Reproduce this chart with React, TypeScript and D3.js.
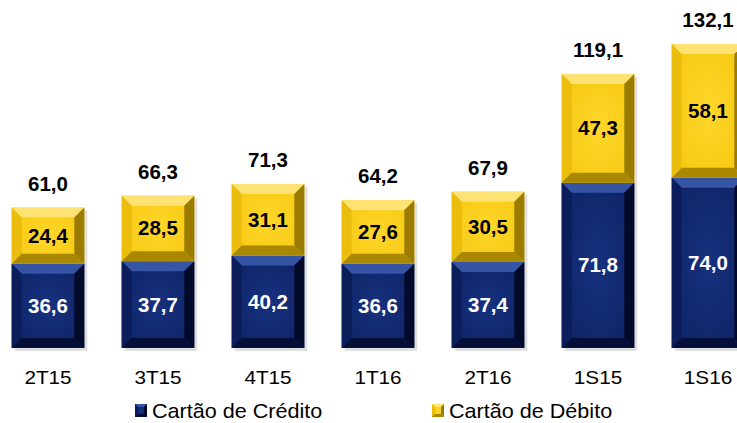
import React from "react";
import * as d3 from "d3";

const categories = ["2T15", "3T15", "4T15", "1T16", "2T16", "1S15", "1S16"];
const credito = [36.6, 37.7, 40.2, 36.6, 37.4, 71.8, 74.0];
const debito = [24.4, 28.5, 31.1, 27.6, 30.5, 47.3, 58.1];
const totais = [61.0, 66.3, 71.3, 64.2, 67.9, 119.1, 132.1];
const seriesNames = ["Cartão de Crédito", "Cartão de Débito"];

const fmt = (v: number) => v.toFixed(1).replace(".", ",");

const palettes = [
  { id: "azul", face: "#0f2468", faceMid: "#17317e", top: "#3654a4", left: "#0c1d5c", right: "#030928", bottom: "#060f38", text: "#ffffff" },
  { id: "amarelo", face: "#f6c912", faceMid: "#ffd62a", top: "#fee274", left: "#ebbd0c", right: "#9c7c00", bottom: "#a98800", text: "#000000" },
];

function BevelRect({ x, y, w, h, p }: { x: number; y: number; w: number; h: number; p: typeof palettes[0] }) {
  const b = Math.min(10, h / 4, w / 4);
  const pts = (arr: number[][]) => arr.map((d) => d.join(",")).join(" ");
  return (
    <g>
      <rect x={x} y={y} width={w} height={h} fill={`url(#face-${p.id})`} />
      <polygon points={pts([[x, y], [x + w, y], [x + w - b, y + b], [x + b, y + b]])} fill={p.top} />
      <polygon points={pts([[x, y], [x + b, y + b], [x + b, y + h - b], [x, y + h]])} fill={p.left} />
      <polygon points={pts([[x + w, y], [x + w, y + h], [x + w - b, y + h - b], [x + w - b, y + b]])} fill={p.right} />
      <polygon points={pts([[x, y + h], [x + b, y + h - b], [x + w - b, y + h - b], [x + w, y + h]])} fill={p.bottom} />
    </g>
  );
}

export default function App() {
  const width = 737;
  const height = 423;
  const baseline = 348;

  const x = d3.scaleBand<string>().domain(categories).range([-7, 763]).paddingInner(0.34).paddingOuter(0.17);
  const y = d3.scaleLinear().domain([0, 132.1]).range([baseline, 44]);
  const bw = x.bandwidth();

  const font = "'Liberation Sans', Arial, sans-serif";

  return (
    <svg width={width} height={height} style={{ position: "absolute", left: 0, top: 0 }} fontFamily={font}>
      <defs>
        {palettes.map((p) => (
          <radialGradient key={p.id} id={`face-${p.id}`} cx="50%" cy="50%" r="60%">
            <stop offset="0%" stopColor={p.faceMid} />
            <stop offset="100%" stopColor={p.face} />
          </radialGradient>
        ))}
      </defs>
      {categories.map((c, i) => {
        const x0 = x(c)!;
        const yc = y(credito[i]);
        const yt = y(credito[i] + debito[i]);
        const cx = x0 + bw / 2;
        return (
          <g key={c}>
            <rect x={x0 + 3} y={yt + 3} width={bw} height={baseline - yt} fill="#000" opacity={0.12} />
            <BevelRect x={x0} y={yc} w={bw} h={baseline - yc} p={palettes[0]} />
            <BevelRect x={x0} y={yt} w={bw} h={yc - yt} p={palettes[1]} />
            <text x={cx} y={(yc + baseline) / 2 + 7} textAnchor="middle" fontSize={20.5} fontWeight="bold" fill={palettes[0].text}>
              {fmt(credito[i])}
            </text>
            <text x={cx} y={(yt + yc) / 2 + 7} textAnchor="middle" fontSize={20.5} fontWeight="bold" fill={palettes[1].text}>
              {fmt(debito[i])}
            </text>
            <text x={cx} y={yt - 17} textAnchor="middle" fontSize={20.5} fontWeight="bold" fill="#000">
              {fmt(totais[i])}
            </text>
            <text transform={`translate(${cx},384) scale(1.15,1)`} textAnchor="middle" fontSize={18} fill="#000">
              {c}
            </text>
          </g>
        );
      })}
      {seriesNames.map((s, i) => {
        const lx = i === 0 ? 135 : 432;
        return (
          <g key={s}>
            <BevelRect x={lx} y={404} w={12} h={13} p={palettes[i]} />
            <text transform={`translate(${lx + 17},418) scale(1.08,1)`} fontSize={20} fill="#000">
              {s}
            </text>
          </g>
        );
      })}
    </svg>
  );
}
